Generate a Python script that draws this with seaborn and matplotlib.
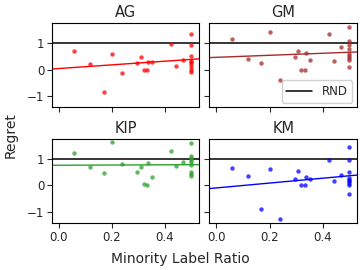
import numpy as np
import pandas as pd
import matplotlib
matplotlib.use("Agg")
import matplotlib.pyplot as plt
import seaborn as sns

# minority label ratio of each dataset (shared by all methods)
ratios = [0.059, 0.118, 0.169, 0.201, 0.240, 0.295, 0.309, 0.320, 0.333, 0.336,
          0.351, 0.423, 0.443, 0.469, 0.5, 0.5, 0.5, 0.5, 0.5, 0.5, 0.5, 0.5, 0.5]

regret_ag = [0.71, 0.21, -0.85, 0.575, -0.125, 0.24, 0.49, -0.01, -0.01, 0.275,
             0.275, 0.96, 0.14, 0.34, 1.34, 0.925, 0.525, 0.31, 0.275, 0.19, 0.10, 0.0, -0.1]
regret_gm = [1.16, 0.40, 0.26, 1.41, -0.40, 0.49, 0.69, 0.0, 0.0, 0.61,
             0.34, 1.35, 0.325, 0.85, 1.6, 1.075, 0.925, 0.775, 0.6, 0.5, 0.425, 0.35, 0.09]
regret_kip = [1.21, 0.69, 0.45, 1.61, 0.79, 0.51, 0.69, 0.05, -0.01, 0.84,
              0.29, 1.29, 0.73, 0.89, 1.6, 1.1, 1.04, 0.95, 0.86, 0.76, 0.49, 0.43, 0.33]
regret_km = [0.64, 0.35, -0.90, 0.625, -1.275, 0.24, 0.525, 0.0, 0.0, 0.325,
             0.225, 0.95, 0.16, 0.39, 1.43, 0.93, 0.5, 0.26, 0.2, 0.16, 0.075, -0.01, -0.34]

methods = ["AG", "GM", "KIP", "KM"]
colors = ["red", "brown", "tab:green", "blue"]
rnd_level = 1.0


def main():
    sns.set_style("ticks")
    plt.rcParams["font.family"] = ["DejaVu Sans"]

    df = pd.DataFrame({
        "ratio": ratios * 4,
        "regret": regret_ag + regret_gm + regret_kip + regret_km,
        "method": np.repeat(methods, len(ratios)),
    })

    fig, axes = plt.subplots(2, 2, figsize=(3.6, 2.7), dpi=100, sharex=True, sharey=True)
    fig.subplots_adjust(left=0.144, right=0.992, top=0.915, bottom=0.174,
                        wspace=0.068, hspace=0.37)

    for ax, method, color in zip(axes.flat, methods, colors):
        sub = df[df["method"] == method]
        ax.set_xlim(-0.026, 0.53)
        ax.set_ylim(-1.42, 1.75)
        ax.axhline(rnd_level, color="black", lw=1.1, label="RND", zorder=1)
        sns.regplot(data=sub, x="ratio", y="regret", ax=ax, color=color, ci=None,
                    truncate=False,
                    scatter_kws={"s": 10, "alpha": 0.75, "linewidths": 0},
                    line_kws={"lw": 1})
        ax.set_title(method, fontsize=10.5, pad=4)
        ax.set_xlabel("")
        ax.set_ylabel("")
        ax.set_xticks([0.0, 0.2, 0.4])
        ax.set_yticks([-1, 0, 1])
        ax.tick_params(labelsize=8.5, length=3.5, width=0.8, pad=2)
        for sp in ax.spines.values():
            sp.set_color("black")
            sp.set_linewidth(0.8)

    axes[0, 1].legend(loc="lower right", fontsize=8.5, handlelength=2.2,
                      borderaxespad=0.4, framealpha=0.9)

    fig.supxlabel("Minority Label Ratio", fontsize=10, y=0.015)
    fig.supylabel("Regret", fontsize=10, x=0.01)

    fig.savefig("out.png", dpi=100)
    plt.close(fig)


if __name__ == "__main__":
    main()
